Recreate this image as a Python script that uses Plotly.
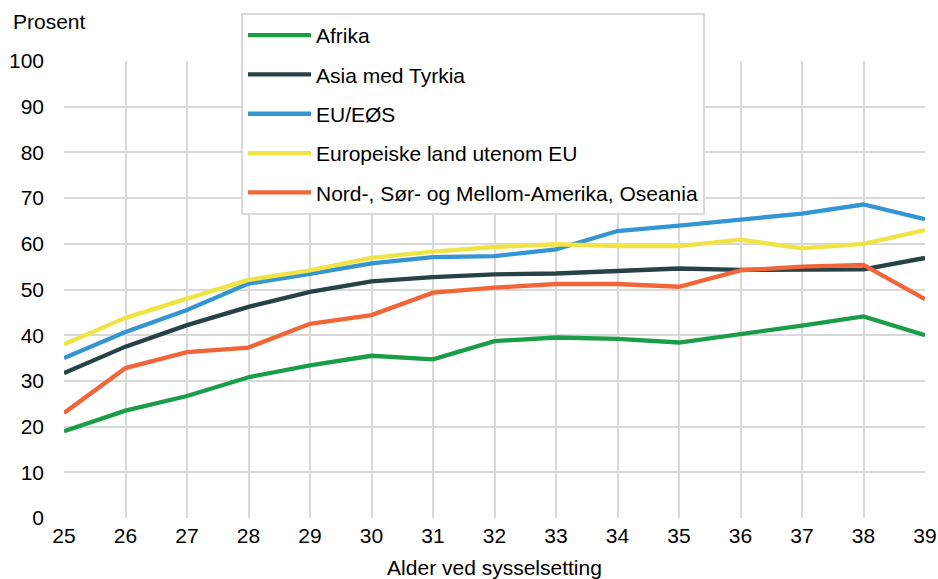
import plotly.graph_objects as go

alder = [25, 26, 27, 28, 29, 30, 31, 32, 33, 34, 35, 36, 37, 38, 39]
afrika = [19.0, 23.5, 26.7, 30.8, 33.4, 35.5, 34.7, 38.7, 39.5, 39.2, 38.4, 40.2, 42.1, 44.1, 40.0]
asia = [31.7, 37.5, 42.2, 46.2, 49.5, 51.8, 52.7, 53.3, 53.5, 54.0, 54.6, 54.3, 54.4, 54.4, 56.9]
eu_eos = [35.0, 40.7, 45.5, 51.3, 53.4, 55.7, 57.1, 57.3, 58.8, 62.8, 64.0, 65.3, 66.6, 68.6, 65.4]
europeiske = [38.0, 43.8, 48.0, 52.1, 54.2, 56.9, 58.3, 59.3, 59.9, 59.5, 59.5, 60.9, 59.0, 60.0, 63.0]
amerika = [23.0, 32.8, 36.3, 37.3, 42.5, 44.4, 49.3, 50.4, 51.2, 51.2, 50.6, 54.2, 55.0, 55.4, 47.9]

series = [
    ("Afrika", afrika, "#1a9d49"),
    ("Asia med Tyrkia", asia, "#274247"),
    ("EU/EØS", eu_eos, "#3396d2"),
    ("Europeiske land utenom EU", europeiske, "#efe443"),
    ("Nord-, Sør- og Mellom-Amerika, Oseania", amerika, "#f26539"),
]

y_ticks = list(range(0, 101, 10))
x_ticks = alder

fig = go.Figure()
for i, (name, vals, color) in enumerate(series):
    fig.add_trace(go.Scatter(
        x=alder, y=vals, name=name, mode="lines",
        line=dict(color=color, width=4.3),
        legendgroup=f"g{i}",
    ))

font = dict(family="Liberation Sans, Arial, sans-serif", size=21, color="#000000")

W, H = 938, 579
ML, MR, MT, MB = 64, 13, 61, 61
PW, PH = W - ML - MR, H - MT - MB

fig.update_layout(
    width=W, height=H,
    margin=dict(l=ML, r=MR, t=MT, b=MB, autoexpand=False),
    paper_bgcolor="white", plot_bgcolor="white",
    font=font,
    showlegend=True,
    legend=dict(
        x=(241 - ML) / PW, y=1 + (MT - 13) / PH, xanchor="left", yanchor="top",
        bgcolor="white", bordercolor="#d9d9d9", borderwidth=2,
        font=font, traceorder="grouped", tracegroupgap=9,
        itemwidth=63,
    ),
    xaxis=dict(
        range=[25, 39], tickmode="array", tickvals=x_ticks,
        ticktext=[str(v) for v in x_ticks],
        showgrid=True, gridcolor="#d9d9d9", gridwidth=2,
        zeroline=False, showline=False, ticks="", ticklabelstandoff=3,
        automargin=False,
        title=dict(text="Alder ved sysselsetting", font=font, standoff=14),
    ),
    yaxis=dict(
        range=[0, 100], tickmode="array", tickvals=y_ticks,
        ticktext=[str(v) for v in y_ticks],
        showgrid=True, gridcolor="#d9d9d9", gridwidth=2,
        zeroline=False, showline=False, ticks="", ticklabelstandoff=19,
        automargin=False,
    ),
    annotations=[dict(
        text="Prosent", xref="paper", yref="paper",
        x=-(ML - 11) / PW, y=1 + (MT - 22) / PH, xanchor="left", yanchor="middle",
        showarrow=False, font=font,
    )],
)

fig.write_html(
    "out.html",
    config={"displayModeBar": False},
    post_script="document.body.style.margin='0';document.body.style.overflow='hidden';",
)
